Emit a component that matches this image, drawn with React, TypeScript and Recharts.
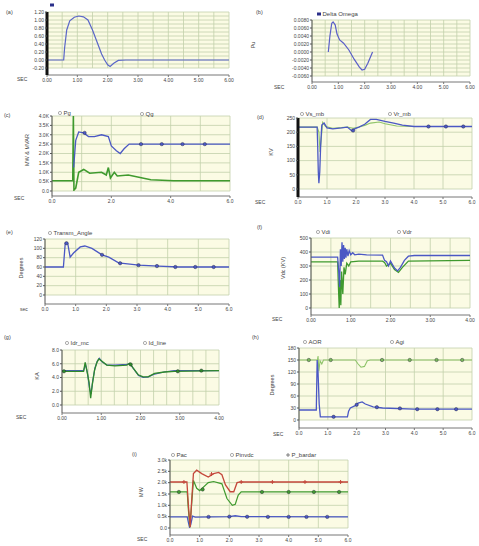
import React from "react";
import { ComposedChart, Line, XAxis, YAxis, CartesianGrid } from "recharts";

type Pt = [number, number];

const W = 479;
const H = 546;
const Y_W = 26;
const X_H = 12;
const PLOT_BG = "#fbfbe4";
const GRID = "#c3d1ab";
const TEXT = "#444";
const FONT = "'Liberation Sans', Arial, sans-serif";
const BLUE = "#4b58c4";
const GREEN = "#3f9a2e";
const RED = "#c4473b";

// tick labels
const sixSec = [0, 1, 2, 3, 4, 5, 6];
const fourSec = [0, 1, 2, 3, 4];
const evenSec = [0, 2, 4, 6];
const speedTicks = [-0.2, 0, 0.2, 0.4, 0.6, 0.8, 1.0, 1.2];
const omegaTicks = [-0.006, -0.004, -0.002, 0, 0.002, 0.004, 0.006, 0.008];
const powerTicks = [0, 500, 1000, 1500, 2000, 2500, 3000, 3500, 4000];
const kvTicks = [0, 50, 100, 150, 200, 250];
const angleTicks = [0, 20, 40, 60, 80, 100, 120];
const vdcTicks = [0, 100, 200, 300, 400, 500];
const kaTicks = [0, 2, 4, 6, 8];
const alphaTicks = [0, 30, 60, 90, 120, 150, 180];
const mwTicks = [0, 500, 1000, 1500, 2000, 2500, 3000];

// (a)
const speedA: Pt[] = [
  [0, 0], [0.55, 0], [0.58, 0.3], [0.65, 0.75], [0.75, 0.98], [0.9, 1.07], [1.05, 1.1],
  [1.2, 1.08], [1.35, 1.0], [1.5, 0.75], [1.65, 0.45], [1.8, 0.15], [1.9, 0.0], [2.0, -0.12],
  [2.08, -0.16], [2.2, -0.08], [2.35, -0.01], [2.6, 0], [6, 0],
];
// (b)
const deltaOmega: Pt[] = [
  [0.62, 0], [0.68, 0.004], [0.75, 0.0072], [0.8, 0.0075], [0.88, 0.0068], [0.95, 0.0045],
  [1.05, 0.003], [1.2, 0.0022], [1.4, 0.0005], [1.6, -0.0018], [1.8, -0.0038], [1.9, -0.0045],
  [2.0, -0.0043], [2.12, -0.0028], [2.3, 0],
];
// (c)
const pg: Pt[] = [
  [0.73, 1250], [0.8, 2700], [0.9, 3150], [1.07, 3100], [1.23, 2900], [1.43, 2900], [1.67, 3000],
  [1.9, 2900], [2.0, 2400], [2.17, 2150], [2.3, 2000], [2.43, 2250], [2.6, 2500], [6, 2500],
];
const qg: Pt[] = [
  [0, 550], [0.7, 550], [0.72, 4000], [0.74, 50], [0.8, 150], [0.9, 1000], [1.07, 1150],
  [1.27, 950], [1.67, 1000], [1.83, 850], [1.9, 1250], [1.97, 700], [2.1, 1000], [2.2, 800],
  [2.57, 850], [3.33, 600], [4.1, 550], [6, 550],
];
const pgMarks: Pt[] = [[1.1, 3100], [3.0, 2500], [3.7, 2500], [4.4, 2500], [5.15, 2500]];
// (d)
const vsMb: Pt[] = [
  [0, 218], [0.66, 218], [0.68, 150], [0.7, 60], [0.72, 20], [0.75, 60], [0.78, 150], [0.82, 225],
  [0.9, 232], [1.0, 215], [1.2, 212], [1.5, 215], [1.7, 218], [1.85, 205], [1.95, 212], [2.1, 218],
  [2.3, 228], [2.5, 245], [2.7, 245], [3.0, 238], [3.3, 232], [3.6, 225], [4, 220], [6, 220],
];
const vrMb: Pt[] = [
  [0, 218], [0.66, 218], [0.72, 200], [0.76, 130], [0.8, 175], [0.85, 235], [0.95, 220],
  [1.2, 214], [1.5, 216], [1.7, 218], [1.9, 214], [2.1, 218], [2.3, 224], [2.5, 232], [2.8, 236],
  [3.0, 230], [3.4, 222], [4, 220], [6, 220],
];
const vsMarks: Pt[] = [[1.9, 206], [4.5, 220], [5.1, 220], [5.7, 220]];
// (e)
const transmAngle: Pt[] = [
  [0, 60], [0.6, 60], [0.66, 111], [0.74, 111], [0.82, 81], [0.93, 90], [1.15, 103], [1.3, 105],
  [1.53, 100], [1.86, 86], [2.08, 81], [2.4, 69], [3.06, 64], [3.7, 62], [4.36, 60], [6, 60],
];
const angleMarks: Pt[] = [
  [0.7, 111], [1.86, 86], [2.45, 68], [3.05, 64], [3.65, 62], [4.25, 60], [4.9, 60], [5.5, 60],
];
// (f)
const vdi: Pt[] = [
  [0, 364], [0.67, 364], [0.7, 250], [0.72, 150], [0.74, 420], [0.76, 300], [0.78, 470],
  [0.8, 330], [0.82, 450], [0.84, 350], [0.86, 430], [0.88, 360], [0.9, 420], [0.93, 370],
  [0.96, 410], [1.0, 380], [1.05, 395], [1.1, 380], [1.2, 385], [1.4, 380], [1.8, 378],
  [1.85, 340], [1.9, 330], [1.95, 300], [2.0, 335], [2.05, 310], [2.1, 285], [2.18, 265],
  [2.25, 290], [2.35, 340], [2.45, 370], [2.6, 375], [4, 375],
];
const vdr: Pt[] = [
  [0, 330], [0.67, 330], [0.69, 150], [0.71, 0], [0.73, 200], [0.75, 20], [0.77, 260],
  [0.8, 100], [0.83, 290], [0.86, 240], [0.9, 320], [0.95, 300], [1.0, 330], [1.2, 335],
  [1.8, 335], [1.85, 325], [1.9, 300], [2.0, 320], [2.1, 275], [2.2, 255], [2.3, 290],
  [2.45, 335], [4, 340],
];
// (g)
const idrMc: Pt[] = [
  [0, 5.0], [0.55, 5.0], [0.6, 5.9], [0.65, 4.6], [0.7, 2.5], [0.74, 1.6], [0.78, 3.4],
  [0.84, 5.4], [0.9, 6.4], [0.95, 6.8], [1.02, 6.3], [1.15, 5.8], [1.35, 5.8], [1.65, 5.9],
  [1.73, 6.0], [1.82, 5.3], [1.95, 4.3], [2.07, 4.0], [2.2, 4.1], [2.36, 4.5], [2.6, 4.8],
  [2.86, 5.0], [4, 5.0],
];
const idLine: Pt[] = [
  [0, 4.9], [0.55, 4.9], [0.59, 6.2], [0.63, 5.1], [0.69, 3.3], [0.73, 1.0], [0.77, 2.9],
  [0.83, 5.1], [0.89, 6.2], [0.94, 6.7], [1.01, 6.4], [1.14, 5.8], [1.35, 5.7], [1.65, 5.8],
  [1.73, 6.1], [1.81, 5.4], [1.94, 4.4], [2.07, 4.1], [2.19, 4.1], [2.36, 4.6], [2.61, 4.8],
  [2.86, 4.9], [4, 5.0],
];
const idMarks: Pt[] = [[0.05, 4.9], [1.75, 5.9], [2.95, 4.9], [3.55, 5.0]];
// (h)
const aor: Pt[] = [
  [0, 25], [0.6, 25], [0.63, 150], [0.66, 120], [0.7, 40], [0.74, 8], [1.68, 8], [1.72, 22],
  [1.78, 30], [1.95, 36], [2.05, 42], [2.19, 45], [2.3, 40], [2.57, 33], [2.9, 30], [3.97, 27],
  [6, 27],
];
const agi: Pt[] = [
  [0, 150], [0.64, 150], [0.66, 160], [0.69, 122], [0.73, 148], [0.79, 140], [0.85, 150],
  [1.95, 150], [2.05, 140], [2.15, 132], [2.27, 134], [2.37, 148], [2.47, 150], [6, 150],
];
const aorMarks: Pt[] = [[1.2, 8], [2.0, 38], [2.7, 32], [3.5, 29], [4.1, 27], [4.8, 27], [5.45, 27]];
const agiMarks: Pt[] = [[0.34, 150], [1.1, 150], [2.88, 150], [3.84, 150], [4.77, 150], [5.66, 150]];
// (i)
const pac: Pt[] = [
  [0, 490], [0.58, 490], [0.62, 250], [0.66, 20], [0.7, 150], [0.76, 520], [0.85, 480],
  [2.0, 500], [2.2, 540], [2.4, 500], [6, 490],
];
const pinvdc: Pt[] = [
  [0, 1590], [0.58, 1590], [0.62, 800], [0.67, 50], [0.72, 900], [0.79, 2100], [0.9, 1750],
  [1.0, 1650], [1.29, 2000], [1.47, 2050], [1.75, 1950], [1.92, 1300], [2.1, 1000], [2.2, 1050],
  [2.3, 1450], [2.4, 1590], [6, 1590],
];
const pBardar: Pt[] = [
  [0, 2030], [0.57, 2030], [0.62, 1000], [0.68, 40], [0.73, 1200], [0.79, 2400], [0.9, 2550],
  [1.07, 2400], [1.29, 2250], [1.47, 2400], [1.64, 2450], [1.75, 2350], [1.87, 1900], [2.03, 1600],
  [2.15, 1600], [2.26, 2000], [2.37, 2030], [6, 2030],
];
const pacMarks: Pt[] = [[1.3, 490], [2.0, 500], [2.6, 495], [3.3, 490], [4.0, 490], [4.6, 490], [5.3, 490]];
const pinvMarks: Pt[] = [[0.3, 1590], [1.1, 1700], [3.1, 1590], [4.0, 1590], [4.85, 1590], [5.7, 1590]];
const pbarMarks: Pt[] = [[0.47, 2030], [1.4, 2380], [2.4, 2030], [3.45, 2030], [4.55, 2030], [5.75, 2030]];

const f1 = (v: number) => v.toFixed(1);
const f2 = (v: number) => v.toFixed(2);
const f4 = (v: number) => v.toFixed(4);
const f0 = (v: number) => String(v);
const fK = (v: number) => (v === 0 ? "0.0" : (v / 1000).toFixed(1) + "K");
const fk = (v: number) => (v === 0 ? "0.0" : (v / 1000).toFixed(1) + "k");

function sub(ticks: number[], n: number): number[] {
  const out: number[] = [];
  ticks.forEach((v, i) => {
    out.push(v);
    if (i < ticks.length - 1) {
      for (let k = 1; k < n; k++) out.push(v + ((ticks[i + 1] - v) * k) / n);
    }
  });
  return out;
}

const rows = (pts: Pt[]) => pts.map(([t, v]) => ({ t, v }));

type Series = { data: Pt[]; color: string; width?: number };
type Marks = { data: Pt[]; color: string; shape?: "circle" | "plus" };

interface PanelProps {
  l: number;
  r: number;
  t: number;
  b: number;
  axisY: number;
  xTicks: number[];
  xFmt: (v: number) => string;
  xSub: number;
  yTicks: number[];
  yFmt: (v: number) => string;
  ySub: number;
  series: Series[];
  marks?: Marks[];
  thickAxis?: boolean;
}

function Panel(p: PanelProps) {
  const xDomain: [number, number] = [p.xTicks[0], p.xTicks[p.xTicks.length - 1]];
  const yDomain: [number, number] = [p.yTicks[0], p.yTicks[p.yTicks.length - 1]];
  return (
    <div style={{ position: "absolute", left: 0, top: 0 }}>
      <ComposedChart
        width={W}
        height={H}
        margin={{ left: p.l - Y_W, right: W - p.r, top: p.t, bottom: H - p.axisY - X_H }}
      >
        <CartesianGrid
          x={p.l}
          y={p.t}
          width={p.r - p.l}
          height={p.b - p.t}
          fill={PLOT_BG}
          stroke={GRID}
          strokeWidth={0.8}
          horizontalValues={sub(p.yTicks, p.ySub)}
          verticalValues={sub(p.xTicks, p.xSub)}
        />
        <XAxis
          type="number"
          dataKey="t"
          domain={xDomain}
          ticks={p.xTicks}
          tickFormatter={p.xFmt}
          interval={0}
          height={X_H}
          allowDataOverflow
          tick={{ fontSize: 5, fill: TEXT, fontFamily: FONT }}
          tickSize={2}
          tickMargin={1}
          axisLine={{ stroke: "#777" }}
          tickLine={{ stroke: "#777" }}
        />
        <YAxis
          type="number"
          dataKey="v"
          domain={yDomain}
          ticks={p.yTicks}
          tickFormatter={p.yFmt}
          interval={0}
          width={Y_W}
          allowDataOverflow
          padding={{ top: 0, bottom: p.axisY - p.b }}
          tick={{ fontSize: 5, fill: TEXT, fontFamily: FONT }}
          tickSize={2}
          tickMargin={1}
          axisLine={p.thickAxis ? { stroke: "#111", strokeWidth: 3 } : { stroke: "#555" }}
          tickLine={{ stroke: "#555" }}
        />
        {p.series.map((s, i) => (
          <Line
            key={"s" + i}
            data={rows(s.data)}
            dataKey="v"
            type="linear"
            stroke={s.color}
            strokeWidth={s.width ?? 1.1}
            dot={false}
            activeDot={false}
            isAnimationActive={false}
          />
        ))}
        {(p.marks ?? []).map((m, i) => (
          <Line
            key={"m" + i}
            data={rows(m.data)}
            dataKey="v"
            stroke="none"
            activeDot={false}
            isAnimationActive={false}
            dot={(d: any) =>
              m.shape === "plus" ? (
                <path
                  key={"d" + d.index}
                  d={`M${d.cx - 2},${d.cy}h4M${d.cx},${d.cy - 2}v4`}
                  stroke={m.color}
                  strokeWidth={1}
                />
              ) : (
                <circle key={"d" + d.index} cx={d.cx} cy={d.cy} r={1.7} fill={m.color} stroke="#223" strokeWidth={0.4} />
              )
            }
          />
        ))}
      </ComposedChart>
    </div>
  );
}

function Txt({ x, y, s, size = 5.5, anchor = "start" }: { x: number; y: number; s: string; size?: number; anchor?: string }) {
  return (
    <text x={x} y={y} fontSize={size} fill={TEXT} fontFamily={FONT} textAnchor={anchor as any} dominantBaseline="middle">
      {s}
    </text>
  );
}

function VTxt({ x, y, s }: { x: number; y: number; s: string }) {
  return (
    <text
      transform={`translate(${x},${y}) rotate(-90)`}
      fontSize={5.5}
      fill={TEXT}
      fontFamily={FONT}
      textAnchor="middle"
      dominantBaseline="middle"
    >
      {s}
    </text>
  );
}

function Key({ x, y, s, kind = "circle" }: { x: number; y: number; s: string; kind?: "circle" | "square" | "plus" }) {
  return (
    <g>
      {kind === "circle" && <circle cx={x} cy={y} r={1.6} fill="none" stroke="#777" strokeWidth={0.6} />}
      {kind === "square" && <rect x={x - 2} y={y - 1.5} width={4} height={3} fill="#2a2f8a" />}
      {kind === "plus" && <path d={`M${x - 2},${y}h4M${x},${y - 2}v4`} stroke="#555" strokeWidth={0.7} />}
      <Txt x={x + 3.5} y={y} s={s} size={6} />
    </g>
  );
}

export default function App() {
  return (
    <div style={{ position: "absolute", left: 0, top: 0, width: W, height: H, background: "#fff", overflow: "hidden" }}>
      <Panel l={47} r={229} t={12} b={68} axisY={75} xTicks={sixSec} xFmt={f2} xSub={2} yTicks={speedTicks} yFmt={f2} ySub={2}
        series={[{ data: speedA, color: "#5a66c8", width: 1.2 }]} thickAxis />
      <Panel l={312} r={470} t={20} b={76} axisY={82} xTicks={sixSec} xFmt={f2} xSub={2} yTicks={omegaTicks} yFmt={f4} ySub={2}
        series={[{ data: deltaOmega, color: "#5a5fc8", width: 1.2 }]} />
      <Panel l={52} r={230} t={116} b={191} axisY={196} xTicks={evenSec} xFmt={f1} xSub={2} yTicks={powerTicks} yFmt={fK} ySub={1}
        series={[{ data: qg, color: GREEN, width: 1.6 }, { data: pg, color: BLUE, width: 1.3 }]}
        marks={[{ data: pgMarks, color: BLUE }]} />
      <Panel l={298} r={472} t={118} b={189} axisY={197} xTicks={sixSec} xFmt={f1} xSub={1} yTicks={kvTicks} yFmt={f0} ySub={1}
        series={[{ data: vrMb, color: "#8fc46a", width: 1.1 }, { data: vsMb, color: BLUE, width: 1.3 }]}
        marks={[{ data: vsMarks, color: BLUE }]} thickAxis />
      <Panel l={45} r={229} t={239} b={295} axisY={304} xTicks={sixSec} xFmt={f1} xSub={1} yTicks={angleTicks} yFmt={f0} ySub={1}
        series={[{ data: transmAngle, color: BLUE, width: 1.3 }]}
        marks={[{ data: angleMarks, color: BLUE }]} />
      <Panel l={311} r={470} t={238} b={308} axisY={315} xTicks={fourSec} xFmt={f2} xSub={2} yTicks={vdcTicks} yFmt={f0} ySub={1}
        series={[{ data: vdr, color: GREEN, width: 1.3 }, { data: vdi, color: BLUE, width: 1.3 }]} />
      <Panel l={62} r={219} t={350} b={405} axisY={413} xTicks={fourSec} xFmt={f2} xSub={3} yTicks={kaTicks} yFmt={f1} ySub={1}
        series={[{ data: idrMc, color: BLUE, width: 1.2 }, { data: idLine, color: "#2f8a2a", width: 1.3 }]}
        marks={[{ data: idMarks, color: "#2f8a2a" }]} />
      <Panel l={299} r={472} t={348} b={420} axisY={428} xTicks={sixSec} xFmt={f1} xSub={1} yTicks={alphaTicks} yFmt={f0} ySub={1}
        series={[{ data: agi, color: "#8fc46a", width: 1.1 }, { data: aor, color: BLUE, width: 1.3 }]}
        marks={[{ data: agiMarks, color: "#7ab85a" }, { data: aorMarks, color: BLUE }]} />
      <Panel l={170} r={348} t={460} b={528} axisY={535} xTicks={sixSec} xFmt={f1} xSub={1} yTicks={mwTicks} yFmt={fk} ySub={1}
        series={[
          { data: pac, color: BLUE, width: 1.3 },
          { data: pinvdc, color: GREEN, width: 1.2 },
          { data: pBardar, color: RED, width: 1.3 },
        ]}
        marks={[
          { data: pacMarks, color: BLUE },
          { data: pinvMarks, color: GREEN },
          { data: pbarMarks, color: RED, shape: "plus" },
        ]} />

      <svg width={W} height={H} style={{ position: "absolute", left: 0, top: 0, pointerEvents: "none" }}>
        <Txt x={6} y={13} s="(a)" />
        <Txt x={256} y={13} s="(b)" />
        <Txt x={4} y={116} s="(c)" />
        <Txt x={257} y={118} s="(d)" />
        <Txt x={6} y={233} s="(e)" />
        <Txt x={257} y={228} s="(f)" />
        <Txt x={4} y={338} s="(g)" />
        <Txt x={252} y={338} s="(h)" />
        <Txt x={132} y={455} s="(i)" />

        <Txt x={17} y={80} s="SEC" size={5} />
        <Txt x={274} y={88} s="SEC" size={5} />
        <Txt x={14} y={199} s="SEC" size={5} />
        <Txt x={255} y={203} s="SEC" size={5} />
        <Txt x={20} y={310} s="sec" size={5} />
        <Txt x={272} y={320} s="SEC" size={5} />
        <Txt x={16} y={418} s="SEC" size={5} />
        <Txt x={273} y={435} s="SEC" size={5} />
        <Txt x={137} y={540} s="SEC" size={5} />

        <VTxt x={254} y={45} s="Pu" />
        <VTxt x={28} y={150} s="MW & MVAR" />
        <VTxt x={272} y={152} s="KV" />
        <VTxt x={22} y={268} s="Degrees" />
        <VTxt x={284} y={268} s="Vdc (KV)" />
        <VTxt x={38} y={376} s="KA" />
        <VTxt x={273} y={385} s="Degrees" />
        <VTxt x={142} y={492} s="MW" />

        <Key x={52} y={5} s="" kind="square" />
        <Key x={319} y={14} s="Delta Omega" kind="square" />
        <Key x={60} y={113} s="Pg" />
        <Key x={142} y={114} s="Qg" />
        <Key x={302} y={114} s="Vs_mb" />
        <Key x={390} y={114} s="Vr_mb" />
        <Key x={50} y={233} s="Transm_Angle" />
        <Key x={318} y={232} s="Vdi" />
        <Key x={399} y={232} s="Vdr" />
        <Key x={67} y={343} s="Idr_mc" />
        <Key x={145} y={343} s="Id_line" />
        <Key x={305} y={342} s="AOR" />
        <Key x={392} y={342} s="Agi" />
        <Key x={173} y={455} s="Pac" />
        <Key x={232} y={455} s="Pinvdc" />
        <Key x={288} y={455} s="P_bardar" kind="plus" />
      </svg>
    </div>
  );
}
